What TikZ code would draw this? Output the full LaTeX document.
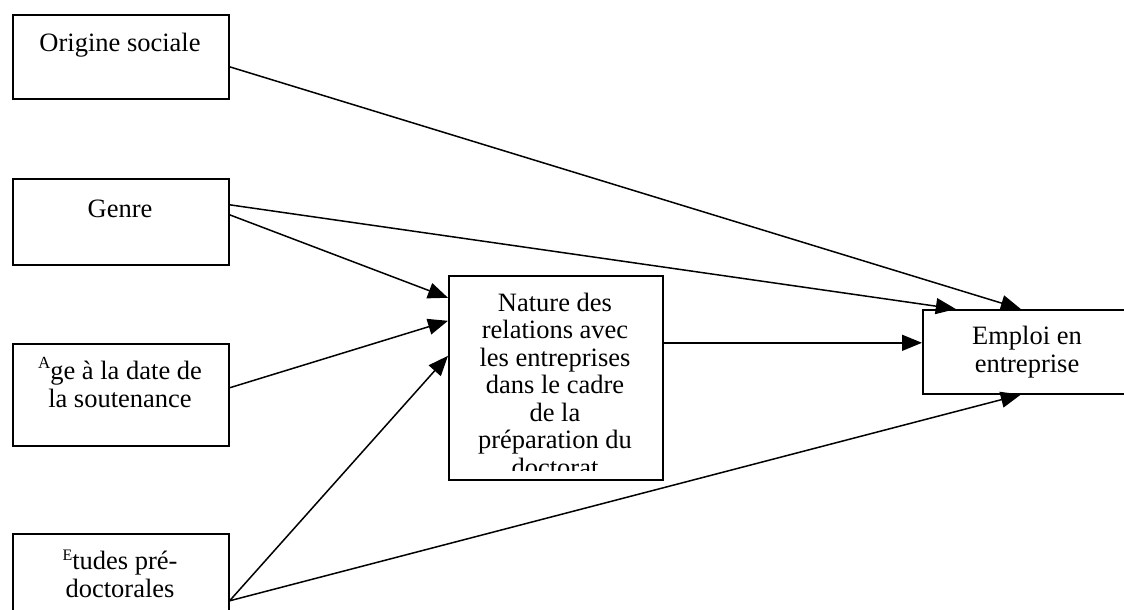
\documentclass[tikz,border=0pt]{standalone}
\usepackage{fontspec}
\setmainfont{Liberation Serif}
\usetikzlibrary{arrows.meta}
\begin{document}
\begin{tikzpicture}[x=1pt,y=-1pt,
 box/.style={draw,line width=1.6pt,inner sep=0pt,anchor=north west},
 lbl/.style={font=\fontsize{26.5}{28}\selectfont,align=center,inner sep=0pt,anchor=base},
 conn/.style={line width=1.5pt,-{Triangle[length=20pt,width=16pt]}}]
\clip (0,0) rectangle (1124,610);
\fill[white] (0,0) rectangle (1124,610);
% boxes
\node[box,minimum width=216pt,minimum height=84pt] (orig) at (12,14) {};
\node[box,minimum width=216pt,minimum height=86pt] (genre) at (12,178) {};
\node[box,minimum width=216pt,minimum height=102pt] (age) at (12,343) {};
\node[box,minimum width=216pt,minimum height=90pt] (etud) at (12,533) {};
\node[box,minimum width=214pt,minimum height=204pt] (nat) at (448,275) {};
\node[box,minimum width=210pt,minimum height=84pt] (emp) at (922,309) {};
% labels (anchor base = baseline of the last line)
\node[lbl] (torig) at (120,52) {Origine sociale};
\node[lbl] (tgenre) at (120,217) {Genre};
\node[lbl] (tage) at (120,407) {\raisebox{11pt}{\fontsize{17}{17}\selectfont A}ge à la date de\\la soutenance};
\node[lbl] (tetud) at (120,597) {\raisebox{9pt}{\fontsize{16}{16}\selectfont E}tudes pré\mbox{-}\\doctorales};
\begin{scope}
\clip (449,276) rectangle (661,470);
\node[lbl,font=\fontsize{26.5}{27.5}\selectfont] (tnat) at (555,476) {Nature des\\relations avec\\les entreprises\\dans le cadre\\de la\\préparation du\\doctorat};
\end{scope}
\node[lbl] (temp) at (1027,372) {Emploi en\\entreprise};
% connectors
\draw[conn] ([yshift=-10pt]orig.east) -- ([xshift=-7pt]emp.north);
\draw[conn] ([yshift=17pt]genre.east) -- ([xshift=-72pt]emp.north);
\draw[conn] ([yshift=7pt]genre.east) -- ([yshift=80pt]nat.west);
\draw[conn] ([yshift=7pt]age.east) -- ([yshift=57pt]nat.west);
\draw[conn] ([yshift=-22pt]etud.east) -- ([yshift=22pt]nat.west);
\draw[conn] ([yshift=-22pt]etud.east) -- ([xshift=-7pt]emp.south);
\draw[conn] ([yshift=35pt]nat.east) -- ([yshift=9pt]emp.west);
\end{tikzpicture}
\end{document}
